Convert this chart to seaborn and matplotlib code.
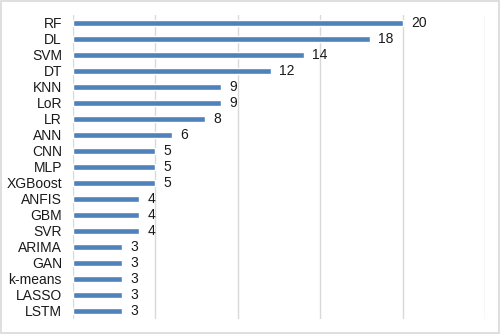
import matplotlib
matplotlib.use("Agg")
import matplotlib.pyplot as plt
import seaborn as sns
import pandas as pd

# Counts of studies per method
methods = ["RF", "DL", "SVM", "DT", "KNN", "LoR", "LR", "ANN", "CNN", "MLP",
           "XGBoost", "ANFIS", "GBM", "SVR", "ARIMA", "GAN", "k-means", "LASSO", "LSTM"]
counts = [20, 18, 14, 12, 9, 9, 8, 6, 5, 5, 5, 4, 4, 4, 3, 3, 3, 3, 3]

df = pd.DataFrame({"method": methods, "count": counts})

sns.set_theme(style="white")
plt.rcParams["font.family"] = ["Liberation Sans", "DejaVu Sans"]

fig = plt.figure(figsize=(5.0, 3.34), dpi=100)
ax = fig.add_axes([0.146, 0.046, 0.824, 0.91])

sns.barplot(data=df, x="count", y="method", orient="h", color="#4F81BD",
            width=0.38, saturation=1, ax=ax, zorder=3)

for i, v in enumerate(df["count"]):
    ax.text(v + 0.5, i, str(v), va="center", ha="left", fontsize=10, color="#1a1a1a")

ax.set_xlim(0, 25)
ax.set_ylim(len(df) - 0.5, -0.5)
ax.set_xticks([0, 5, 10, 15, 20, 25])
ax.set_xticklabels([])
ax.xaxis.grid(True, color="#d9d9d9", linewidth=1.0)
ax.tick_params(axis="both", length=0)
ax.tick_params(axis="y", labelsize=10, pad=8, labelcolor="#1a1a1a")
ax.set_xlabel("")
ax.set_ylabel("")
for s in ax.spines.values():
    s.set_visible(False)

# light frame around the whole figure
fig.patches.append(plt.Rectangle((0.002, 0.003), 0.995, 0.993, transform=fig.transFigure,
                                 fill=False, edgecolor="#d9d9d9", linewidth=1.2))

fig.savefig("out.png", dpi=100)
